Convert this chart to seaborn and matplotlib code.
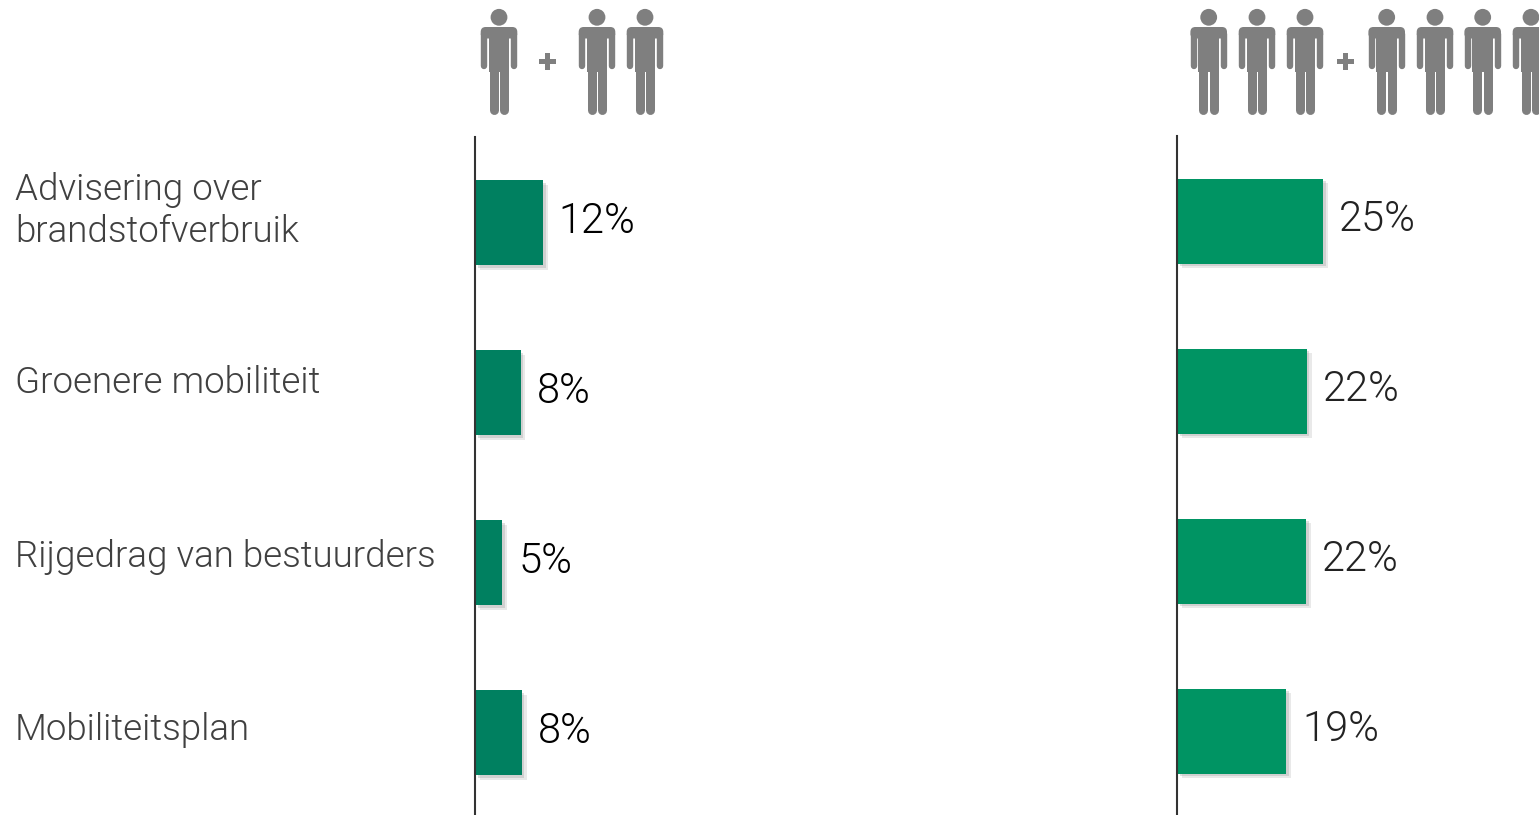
import matplotlib
matplotlib.use('Agg')
import matplotlib.pyplot as plt
import matplotlib.patheffects as pe
from matplotlib.patches import Circle, Rectangle, FancyBboxPatch
import pandas as pd
import seaborn as sns

W, H = 1539, 815

categories = ['Advisering over\nbrandstofverbruik', 'Groenere mobiliteit',
              'Rijgedrag van bestuurders', 'Mobiliteitsplan']
small_values = [11.6, 7.8, 4.7, 8.0]
large_values = [25.0, 22.2, 22.1, 18.7]
small_labels = ['12%', '8%', '5%', '8%']
large_labels = ['25%', '22%', '22%', '19%']

sns.set_theme(style='white')
plt.rcParams['font.family'] = ['Roboto', 'DejaVu Sans']

PX_PER_PCT = 5.84


def place_axes(fig, left, right, top, bottom):
    return fig.add_axes([left / W, 1 - bottom / H, (right - left) / W, (bottom - top) / H])


def draw_panel(ax, values, labels, color, text_color, centre0, top):
    df = pd.DataFrame({'cat': categories, 'val': values})
    sns.barplot(data=df, y='cat', x='val', color=color, width=0.5, saturation=1, ax=ax)
    ax.set_xlim(0, ax.get_window_extent().width / PX_PER_PCT)
    ax.set_ylim((H - centre0) / 170, (top - centre0) / 170)
    ax.set_xlabel('')
    ax.set_ylabel('')
    ax.set_xticks([])
    ax.set_yticks([])
    ax.patch.set_alpha(0)
    sns.despine(ax=ax, top=True, right=True, bottom=True)
    ax.spines['left'].set_color('#333333')
    ax.spines['left'].set_linewidth(1.5)
    for bar in ax.patches:
        bar.set_edgecolor('none')
        bar.set_path_effects([
            pe.SimplePatchShadow(offset=(3.5, -3.5), shadow_rgbFace='#aaaaaa', alpha=0.25),
            pe.SimplePatchShadow(offset=(2, -2), shadow_rgbFace='#999999', alpha=0.3),
            pe.Normal()])
    for bar, lab in zip(ax.patches, labels):
        ax.annotate(lab, (bar.get_width(), bar.get_y() + bar.get_height() / 2),
                    xytext=(11.5, 1), textcoords='offset points', va='center', ha='left',
                    fontsize=30, color=text_color, fontweight=300)


def draw_person(ov, cx):
    col = '#7f7f7f'
    ov.add_patch(Circle((cx, 17.3), 8.4, fc=col, ec='none'))
    ov.add_patch(FancyBboxPatch((cx - 18.3 + 5, 27 + 5), 36.6 - 10, 1.5, boxstyle='round,pad=5',
                                fc=col, ec='none'))
    ov.add_patch(Rectangle((cx - 10.4, 30), 20.8, 42, fc=col, ec='none'))
    for dx in (-15.2, 15.2):
        ov.plot([cx + dx, cx + dx], [34, 66], color=col, lw=6.4 * 0.72, solid_capstyle='round')
    for dx in (-5.4, 5.4):
        ov.plot([cx + dx, cx + dx], [66, 109.5], color=col, lw=9.0 * 0.72, solid_capstyle='round')


def draw_plus(ov, cx, cy):
    ov.add_patch(Rectangle((cx - 8.5, cy - 2.7), 17, 5.4, fc='#7f7f7f', ec='none'))
    ov.add_patch(Rectangle((cx - 2.7, cy - 8.5), 5.4, 17, fc='#7f7f7f', ec='none'))


fig = plt.figure(figsize=(W / 100, H / 100), dpi=100)

ax_small = place_axes(fig, 475, 1170, 137, H)
ax_large = place_axes(fig, 1177, W, 136, H)
draw_panel(ax_small, small_values, small_labels, '#008060', '#000000', 222.5, 137)
draw_panel(ax_large, large_values, large_labels, '#009463', '#222222', 221, 136)

# category texts sit a bit above the bar centres
label_y = [211, 383, 557, 730]
for cat, y in zip(categories, label_y):
    fig.text(15 / W, 1 - y / H, cat, va='center', ha='left', fontsize=26.5,
             color='#404040', fontweight=300, linespacing=1.18)

# people icons in pixel coordinates
ov = fig.add_axes([0, 0, 1, 1])
ov.set_xlim(0, W)
ov.set_ylim(H, 0)
ov.axis('off')
ov.patch.set_alpha(0)
for cx in [499, 597, 645, 1208.7, 1257, 1305, 1386.7, 1435, 1482.7, 1531]:
    draw_person(ov, cx)
draw_plus(ov, 547.5, 61.5)
draw_plus(ov, 1345.7, 61.5)

fig.savefig('out.png', dpi=100)
plt.close()
